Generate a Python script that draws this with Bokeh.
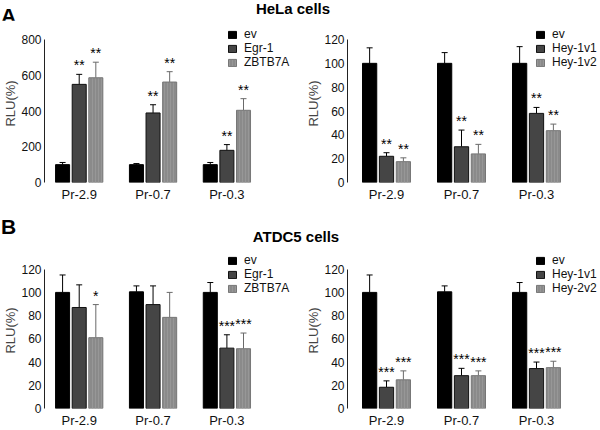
from bokeh.plotting import figure
from bokeh.models import (ColumnDataSource, Whisker, TeeHead, Legend, LegendItem,
                          FixedTicker, Div, Range1d)
from bokeh.layouts import column, row
from bokeh.embed import file_html
from bokeh.resources import INLINE
from bokeh.core.properties import value

promoters = ["Pr-2.9", "Pr-0.7", "Pr-0.3"]

# ---- Panel A (HeLa cells), left: ev / Egr-1 / ZBTB7A
hela_a_names = ["ev", "Egr-1", "ZBTB7A"]
hela_a_ev = [100, 100, 100]
hela_a_ev_err = [112, 106, 112]
hela_a_egr = [549, 389, 180]
hela_a_egr_err = [605, 435, 212]
hela_a_zbtb = [586, 562, 404]
hela_a_zbtb_err = [673, 620, 469]
hela_a_sig = [["", "", ""], ["**", "**", "**"], ["**", "**", "**"]]
hela_a_ticks = [0, 200, 400, 600, 800]

# ---- Panel A (HeLa cells), right: ev / Hey-1v1 / Hey-1v2
hela_b_names = ["ev", "Hey-1v1", "Hey-1v2"]
hela_b_ev = [100, 100, 100]
hela_b_ev_err = [113, 109, 114]
hela_b_v1 = [22, 30, 58]
hela_b_v1_err = [25, 44, 63]
hela_b_v2 = [17.5, 24, 43.5]
hela_b_v2_err = [20.7, 32, 49]
hela_b_sig = [["", "", ""], ["**", "**", "**"], ["**", "**", "**"]]

# ---- Panel B (ATDC5 cells), left: ev / Egr-1 / ZBTB7A
atdc_a_names = ["ev", "Egr-1", "ZBTB7A"]
atdc_a_ev = [100, 100.5, 100]
atdc_a_ev_err = [115, 105.6, 108.5]
atdc_a_egr = [87, 89.5, 52]
atdc_a_egr_err = [106.5, 105.6, 63.5]
atdc_a_zbtb = [61, 78.5, 51.5]
atdc_a_zbtb_err = [89.5, 100, 65]
atdc_a_sig = [["", "", ""], ["", "", "***"], ["*", "", "***"]]

# ---- Panel B (ATDC5 cells), right: ev / Hey-1v1 / Hey-2v2
atdc_b_names = ["ev", "Hey-1v1", "Hey-2v2"]
atdc_b_ev = [100, 100.5, 100]
atdc_b_ev_err = [115, 105.6, 108.5]
atdc_b_v1 = [18.3, 28.3, 34.4]
atdc_b_v1_err = [23.8, 34.6, 40]
atdc_b_v2 = [24.7, 28.3, 35.2]
atdc_b_v2_err = [32.4, 32.4, 40.7]
atdc_b_sig = [["", "", ""], ["***", "***", "***"], ["***", "***", "***"]]

pct_ticks = [0, 20, 40, 60, 80, 100, 120]

FONT = "Liberation Sans"
OFFSETS = [-0.225, 0.0, 0.225]
BAR_W = 0.19
PX_PER_GROUP = 75.0
STYLES = [
    dict(fill="#000000", line="#000000", hatch=None, err="#000000"),
    dict(fill="#454545", line="#111111", hatch=None, err="#000000"),
    dict(fill="#8a8a8a", line="#777777", hatch="vertical_line", err="#6a6a6a"),
]


def panel(width, left_border, height, top_border, bottom_border, axis_max, axis_top_px,
          yticks, names, values, errs, sigs, legend_xy, x_start):
    frame_h = height - bottom_border - top_border
    frame_w = width - left_border
    ytop = axis_max * frame_h / (frame_h - axis_top_px)
    p = figure(width=width, height=height, output_backend="svg", toolbar_location=None,
               x_range=Range1d(x_start, x_start + frame_w / PX_PER_GROUP),
               y_range=Range1d(0, ytop),
               min_border_left=left_border, min_border_right=0,
               min_border_top=top_border, min_border_bottom=bottom_border)
    p.outline_line_color = None
    p.xgrid.visible = False
    p.ygrid.visible = False
    p.background_fill_color = "white"

    items = []
    for k in range(3):
        st = STYLES[k]
        src = ColumnDataSource(dict(
            x=[i + OFFSETS[k] for i in range(len(promoters))],
            top=values[k], err=errs[k], sig=sigs[k]))
        kw = dict(fill_color=st["fill"], line_color=st["line"], line_width=1)
        if st["hatch"]:
            kw.update(hatch_pattern=st["hatch"], hatch_color="#a0a0a0",
                      hatch_scale=3, hatch_weight=1, hatch_alpha=0.6)
        r = p.vbar(x="x", top="top", width=BAR_W, bottom=0, source=src, **kw)
        items.append(LegendItem(label=names[k], renderers=[r]))
        w = Whisker(source=src, base="x", upper="err", lower="top", dimension="height",
                    line_color=st["err"], line_width=1,
                    upper_head=TeeHead(size=6, line_color=st["err"], line_width=1),
                    lower_head=None)
        p.add_layout(w)
        p.text(x="x", y="err", text="sig", source=src, text_align="center",
               text_baseline="bottom", text_font=value(FONT), text_font_size="14px",
               text_color="black", y_offset=-1)

    yax = p.yaxis[0]
    yax.bounds = (0, axis_max)
    yax.ticker = FixedTicker(ticks=yticks)
    yax.axis_label = "RLU(%)"
    yax.axis_label_text_font = FONT
    yax.axis_label_text_font_style = "normal"
    yax.axis_label_text_font_size = "13px"
    yax.axis_label_standoff = 0
    yax.major_label_text_font = FONT
    yax.major_label_text_font_size = "12px"
    yax.major_label_text_color = "#111111"
    yax.major_label_standoff = 3
    yax.axis_line_color = "#222222"
    yax.major_tick_line_color = None
    yax.minor_tick_line_color = None
    yax.major_tick_out = 0
    yax.major_tick_in = 0
    yax.minor_tick_out = 0
    yax.minor_tick_in = 0

    xax = p.xaxis[0]
    xax.ticker = FixedTicker(ticks=list(range(len(promoters))))
    xax.major_label_overrides = {i: promoters[i] for i in range(len(promoters))}
    xax.axis_line_color = None
    xax.major_tick_line_color = None
    xax.minor_tick_line_color = None
    xax.major_tick_out = 0
    xax.major_tick_in = 0
    xax.minor_tick_out = 0
    xax.minor_tick_in = 0
    xax.major_label_text_font = FONT
    xax.major_label_text_font_size = "13px"
    xax.major_label_text_color = "#111111"
    xax.major_label_standoff = 4

    legend = Legend(items=items, location=legend_xy, border_line_color=None,
                    background_fill_alpha=0, padding=0, spacing=0, margin=0,
                    glyph_width=10, glyph_height=9, label_height=10, label_standoff=7,
                    label_text_font=FONT, label_text_font_size="12px",
                    label_text_color="#111111")
    p.add_layout(legend)
    return p


def header(letter, title, h, letter_top, title_top, title_center):
    html = (
        '<div style="position:relative;width:600px;height:%dpx;'
        'font-family:\'Liberation Sans\',Arial,sans-serif;color:#000;">'
        '<span style="position:absolute;left:1px;top:%dpx;font-weight:bold;font-size:21px;line-height:20px;">%s</span>'
        '<span style="position:absolute;left:0px;width:%dpx;top:%dpx;text-align:center;'
        'font-weight:bold;font-size:15px;line-height:16px;">%s</span></div>'
    ) % (h, letter_top, letter, 2 * title_center, title_top, title)
    return Div(text=html, width=600, height=h, margin=0)


W1, L1 = 300, 40
W2, L2 = 300, 47

# A figures: y 20..204, frame top 24, zero line at 182
pa1 = panel(W1, L1, 184, 4, 22, 800, 15, hela_a_ticks, hela_a_names,
            [hela_a_ev, hela_a_egr, hela_a_zbtb],
            [hela_a_ev_err, hela_a_egr_err, hela_a_zbtb_err], hela_a_sig, (183, 113), -0.47)
pa2 = panel(W2, L2, 184, 4, 22, 120, 15, pct_ticks, hela_b_names,
            [hela_b_ev, hela_b_v1, hela_b_v2],
            [hela_b_ev_err, hela_b_v1_err, hela_b_v2_err], hela_b_sig, (188, 113), -0.52)
# B figures: y 246..430, frame top 252, zero line at 411
pb1 = panel(W1, L1, 184, 6, 19, 120, 17, pct_ticks, atdc_a_names,
            [atdc_a_ev, atdc_a_egr, atdc_a_zbtb],
            [atdc_a_ev_err, atdc_a_egr_err, atdc_a_zbtb_err], atdc_a_sig, (183, 113), -0.47)
pb2 = panel(W2, L2, 184, 6, 19, 120, 17, pct_ticks, atdc_b_names,
            [atdc_b_ev, atdc_b_v1, atdc_b_v2],
            [atdc_b_ev_err, atdc_b_v1_err, atdc_b_v2_err], atdc_b_sig, (188, 113), -0.52)

layout = column(
    header("A", "HeLa cells", 20, 6, 1, 293),
    row(pa1, pa2, spacing=0),
    header("B", "ATDC5 cells", 42, 13, 25, 296),
    row(pb1, pb2, spacing=0),
    spacing=0,
)

open("out.html", "w").write(file_html(layout, INLINE))
